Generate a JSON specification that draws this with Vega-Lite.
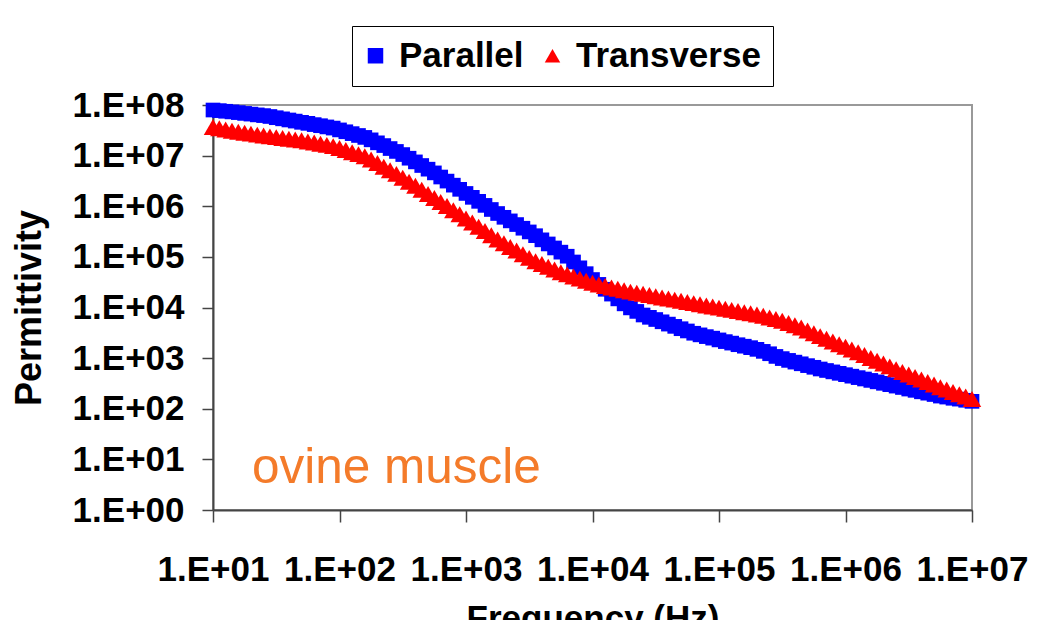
{
"$schema": "https://vega.github.io/schema/vega-lite/v6.json",
"width": 759, "height": 405,
"autosize": {"type": "none"},
"padding": {"left": 213, "top": 105, "right": 84, "bottom": 110},
"background": "white",
"config": {"view": {"stroke": "#999999", "strokeWidth": 2}, "font": "Liberation Sans"},
"datasets": {
"pts": [
{"f":10,"v":7.96e7,"s":"Parallel"},{"f":11.22,"v":7.74e7,"s":"Parallel"},{"f":12.59,"v":7.52e7,"s":"Parallel"},{"f":14.13,"v":7.31e7,"s":"Parallel"},{"f":15.85,"v":7.08e7,"s":"Parallel"},{"f":17.78,"v":6.82e7,"s":"Parallel"},{"f":19.95,"v":6.61e7,"s":"Parallel"},{"f":22.39,"v":6.38e7,"s":"Parallel"},{"f":25.12,"v":6.18e7,"s":"Parallel"},{"f":28.18,"v":5.93e7,"s":"Parallel"},
{"f":31.62,"v":5.61e7,"s":"Parallel"},{"f":35.48,"v":5.33e7,"s":"Parallel"},{"f":39.81,"v":5.06e7,"s":"Parallel"},{"f":44.67,"v":4.81e7,"s":"Parallel"},{"f":50.12,"v":4.55e7,"s":"Parallel"},{"f":56.23,"v":4.34e7,"s":"Parallel"},{"f":63.1,"v":4.10e7,"s":"Parallel"},{"f":70.79,"v":3.90e7,"s":"Parallel"},{"f":79.43,"v":3.69e7,"s":"Parallel"},{"f":89.13,"v":3.50e7,"s":"Parallel"},
{"f":100,"v":3.22e7,"s":"Parallel"},{"f":112.2,"v":2.96e7,"s":"Parallel"},{"f":125.9,"v":2.72e7,"s":"Parallel"},{"f":141.3,"v":2.50e7,"s":"Parallel"},{"f":158.5,"v":2.29e7,"s":"Parallel"},{"f":177.8,"v":2.05e7,"s":"Parallel"},{"f":199.5,"v":1.79e7,"s":"Parallel"},{"f":223.9,"v":1.58e7,"s":"Parallel"},{"f":251.2,"v":1.38e7,"s":"Parallel"},{"f":281.8,"v":1.21e7,"s":"Parallel"},
{"f":316.2,"v":1.05e7,"s":"Parallel"},{"f":354.8,"v":8.89e6,"s":"Parallel"},{"f":398.1,"v":7.52e6,"s":"Parallel"},{"f":446.7,"v":6.38e6,"s":"Parallel"},{"f":501.2,"v":5.40e6,"s":"Parallel"},{"f":562.3,"v":4.56e6,"s":"Parallel"},{"f":631,"v":3.78e6,"s":"Parallel"},{"f":707.9,"v":3.14e6,"s":"Parallel"},{"f":794.3,"v":2.61e6,"s":"Parallel"},{"f":891.3,"v":2.16e6,"s":"Parallel"},
{"f":1000,"v":1.79e6,"s":"Parallel"},{"f":1122,"v":1.50e6,"s":"Parallel"},{"f":1259,"v":1.25e6,"s":"Parallel"},{"f":1413,"v":1.04e6,"s":"Parallel"},{"f":1585,"v":8.63e5,"s":"Parallel"},{"f":1778,"v":7.19e5,"s":"Parallel"},{"f":1995,"v":6.05e5,"s":"Parallel"},{"f":2239,"v":5.14e5,"s":"Parallel"},{"f":2512,"v":4.35e5,"s":"Parallel"},{"f":2818,"v":3.68e5,"s":"Parallel"},
{"f":3162,"v":3.11e5,"s":"Parallel"},{"f":3548,"v":2.62e5,"s":"Parallel"},{"f":3981,"v":2.17e5,"s":"Parallel"},{"f":4467,"v":1.80e5,"s":"Parallel"},{"f":5012,"v":1.50e5,"s":"Parallel"},{"f":5623,"v":1.24e5,"s":"Parallel"},{"f":6310,"v":1.03e5,"s":"Parallel"},{"f":7079,"v":7.93e4,"s":"Parallel"},{"f":7943,"v":6.08e4,"s":"Parallel"},{"f":8913,"v":4.66e4,"s":"Parallel"},
{"f":1e4,"v":3.57e4,"s":"Parallel"},{"f":1.122e4,"v":2.86e4,"s":"Parallel"},{"f":1.259e4,"v":2.29e4,"s":"Parallel"},{"f":1.413e4,"v":1.84e4,"s":"Parallel"},{"f":1.585e4,"v":1.48e4,"s":"Parallel"},{"f":1.778e4,"v":1.18e4,"s":"Parallel"},{"f":1.995e4,"v":9820,"s":"Parallel"},{"f":2.239e4,"v":8370,"s":"Parallel"},{"f":2.512e4,"v":7110,"s":"Parallel"},{"f":2.818e4,"v":6400,"s":"Parallel"},
{"f":3.162e4,"v":5790,"s":"Parallel"},{"f":3.548e4,"v":5220,"s":"Parallel"},{"f":3.981e4,"v":4700,"s":"Parallel"},{"f":4.467e4,"v":4240,"s":"Parallel"},{"f":5.012e4,"v":3810,"s":"Parallel"},{"f":5.623e4,"v":3440,"s":"Parallel"},{"f":6.31e4,"v":3100,"s":"Parallel"},{"f":7.079e4,"v":2880,"s":"Parallel"},{"f":7.943e4,"v":2660,"s":"Parallel"},{"f":8.913e4,"v":2480,"s":"Parallel"},
{"f":1e5,"v":2290,"s":"Parallel"},{"f":1.122e5,"v":2120,"s":"Parallel"},{"f":1.259e5,"v":1980,"s":"Parallel"},{"f":1.413e5,"v":1840,"s":"Parallel"},{"f":1.585e5,"v":1720,"s":"Parallel"},{"f":1.778e5,"v":1610,"s":"Parallel"},{"f":1.995e5,"v":1490,"s":"Parallel"},{"f":2.239e5,"v":1360,"s":"Parallel"},{"f":2.512e5,"v":1220,"s":"Parallel"},{"f":2.818e5,"v":1080,"s":"Parallel"},
{"f":3.162e5,"v":979,"s":"Parallel"},{"f":3.548e5,"v":902,"s":"Parallel"},{"f":3.981e5,"v":834,"s":"Parallel"},{"f":4.467e5,"v":773,"s":"Parallel"},{"f":5.012e5,"v":711,"s":"Parallel"},{"f":5.623e5,"v":659,"s":"Parallel"},{"f":6.31e5,"v":610,"s":"Parallel"},{"f":7.079e5,"v":570,"s":"Parallel"},{"f":7.943e5,"v":535,"s":"Parallel"},{"f":8.913e5,"v":501,"s":"Parallel"},
{"f":1e6,"v":471,"s":"Parallel"},{"f":1.122e6,"v":440,"s":"Parallel"},{"f":1.259e6,"v":412,"s":"Parallel"},{"f":1.413e6,"v":387,"s":"Parallel"},{"f":1.585e6,"v":363,"s":"Parallel"},{"f":1.778e6,"v":340,"s":"Parallel"},{"f":1.995e6,"v":318,"s":"Parallel"},{"f":2.239e6,"v":299,"s":"Parallel"},{"f":2.512e6,"v":280,"s":"Parallel"},{"f":2.818e6,"v":263,"s":"Parallel"},
{"f":3.162e6,"v":245,"s":"Parallel"},{"f":3.548e6,"v":231,"s":"Parallel"},{"f":3.981e6,"v":216,"s":"Parallel"},{"f":4.467e6,"v":203,"s":"Parallel"},{"f":5.012e6,"v":191,"s":"Parallel"},{"f":5.623e6,"v":178,"s":"Parallel"},{"f":6.31e6,"v":170,"s":"Parallel"},{"f":7.079e6,"v":161,"s":"Parallel"},{"f":7.943e6,"v":155,"s":"Parallel"},{"f":8.913e6,"v":147,"s":"Parallel"},
{"f":1e7,"v":140,"s":"Parallel"},
{"f":10,"v":3.67e7,"s":"Transverse"},{"f":11.22,"v":3.47e7,"s":"Transverse"},{"f":12.59,"v":3.28e7,"s":"Transverse"},{"f":14.13,"v":3.09e7,"s":"Transverse"},{"f":15.85,"v":2.96e7,"s":"Transverse"},{"f":17.78,"v":2.84e7,"s":"Transverse"},{"f":19.95,"v":2.72e7,"s":"Transverse"},{"f":22.39,"v":2.60e7,"s":"Transverse"},{"f":25.12,"v":2.50e7,"s":"Transverse"},{"f":28.18,"v":2.40e7,"s":"Transverse"},
{"f":31.62,"v":2.32e7,"s":"Transverse"},{"f":35.48,"v":2.24e7,"s":"Transverse"},{"f":39.81,"v":2.16e7,"s":"Transverse"},{"f":44.67,"v":2.09e7,"s":"Transverse"},{"f":50.12,"v":2.01e7,"s":"Transverse"},{"f":56.23,"v":1.91e7,"s":"Transverse"},{"f":63.1,"v":1.81e7,"s":"Transverse"},{"f":70.79,"v":1.72e7,"s":"Transverse"},{"f":79.43,"v":1.63e7,"s":"Transverse"},{"f":89.13,"v":1.54e7,"s":"Transverse"},
{"f":100,"v":1.41e7,"s":"Transverse"},{"f":112.2,"v":1.29e7,"s":"Transverse"},{"f":125.9,"v":1.17e7,"s":"Transverse"},{"f":141.3,"v":1.07e7,"s":"Transverse"},{"f":158.5,"v":9.70e6,"s":"Transverse"},{"f":177.8,"v":8.41e6,"s":"Transverse"},{"f":199.5,"v":7.14e6,"s":"Transverse"},{"f":223.9,"v":6.04e6,"s":"Transverse"},{"f":251.2,"v":5.13e6,"s":"Transverse"},{"f":281.8,"v":4.36e6,"s":"Transverse"},
{"f":316.2,"v":3.65e6,"s":"Transverse"},{"f":354.8,"v":3.04e6,"s":"Transverse"},{"f":398.1,"v":2.54e6,"s":"Transverse"},{"f":446.7,"v":2.11e6,"s":"Transverse"},{"f":501.2,"v":1.75e6,"s":"Transverse"},{"f":562.3,"v":1.46e6,"s":"Transverse"},{"f":631,"v":1.21e6,"s":"Transverse"},{"f":707.9,"v":1.01e6,"s":"Transverse"},{"f":794.3,"v":8.36e5,"s":"Transverse"},{"f":891.3,"v":6.93e5,"s":"Transverse"},
{"f":1000,"v":5.75e5,"s":"Transverse"},{"f":1122,"v":4.78e5,"s":"Transverse"},{"f":1259,"v":3.93e5,"s":"Transverse"},{"f":1413,"v":3.24e5,"s":"Transverse"},{"f":1585,"v":2.68e5,"s":"Transverse"},{"f":1778,"v":2.21e5,"s":"Transverse"},{"f":1995,"v":1.85e5,"s":"Transverse"},{"f":2239,"v":1.57e5,"s":"Transverse"},{"f":2512,"v":1.33e5,"s":"Transverse"},{"f":2818,"v":1.13e5,"s":"Transverse"},
{"f":3162,"v":9.55e4,"s":"Transverse"},{"f":3548,"v":8.22e4,"s":"Transverse"},{"f":3981,"v":7.23e4,"s":"Transverse"},{"f":4467,"v":6.37e4,"s":"Transverse"},{"f":5012,"v":5.61e4,"s":"Transverse"},{"f":5623,"v":4.95e4,"s":"Transverse"},{"f":6310,"v":4.51e4,"s":"Transverse"},{"f":7079,"v":4.09e4,"s":"Transverse"},{"f":7943,"v":3.72e4,"s":"Transverse"},{"f":8913,"v":3.38e4,"s":"Transverse"},
{"f":1e4,"v":3.08e4,"s":"Transverse"},{"f":1.122e4,"v":2.86e4,"s":"Transverse"},{"f":1.259e4,"v":2.67e4,"s":"Transverse"},{"f":1.413e4,"v":2.49e4,"s":"Transverse"},{"f":1.585e4,"v":2.34e4,"s":"Transverse"},{"f":1.778e4,"v":2.19e4,"s":"Transverse"},{"f":1.995e4,"v":2.06e4,"s":"Transverse"},{"f":2.239e4,"v":1.95e4,"s":"Transverse"},{"f":2.512e4,"v":1.86e4,"s":"Transverse"},{"f":2.818e4,"v":1.76e4,"s":"Transverse"},
{"f":3.162e4,"v":1.67e4,"s":"Transverse"},{"f":3.548e4,"v":1.58e4,"s":"Transverse"},{"f":3.981e4,"v":1.50e4,"s":"Transverse"},{"f":4.467e4,"v":1.43e4,"s":"Transverse"},{"f":5.012e4,"v":1.36e4,"s":"Transverse"},{"f":5.623e4,"v":1.29e4,"s":"Transverse"},{"f":6.31e4,"v":1.22e4,"s":"Transverse"},{"f":7.079e4,"v":1.16e4,"s":"Transverse"},{"f":7.943e4,"v":1.10e4,"s":"Transverse"},{"f":8.913e4,"v":1.05e4,"s":"Transverse"},
{"f":1e5,"v":9950,"s":"Transverse"},{"f":1.122e5,"v":9460,"s":"Transverse"},{"f":1.259e5,"v":8970,"s":"Transverse"},{"f":1.413e5,"v":8530,"s":"Transverse"},{"f":1.585e5,"v":8070,"s":"Transverse"},{"f":1.778e5,"v":7670,"s":"Transverse"},{"f":1.995e5,"v":7280,"s":"Transverse"},{"f":2.239e5,"v":6850,"s":"Transverse"},{"f":2.512e5,"v":6370,"s":"Transverse"},{"f":2.818e5,"v":5930,"s":"Transverse"},
{"f":3.162e5,"v":5460,"s":"Transverse"},{"f":3.548e5,"v":4940,"s":"Transverse"},{"f":3.981e5,"v":4470,"s":"Transverse"},{"f":4.467e5,"v":4030,"s":"Transverse"},{"f":5.012e5,"v":3530,"s":"Transverse"},{"f":5.623e5,"v":3090,"s":"Transverse"},{"f":6.31e5,"v":2720,"s":"Transverse"},{"f":7.079e5,"v":2410,"s":"Transverse"},{"f":7.943e5,"v":2130,"s":"Transverse"},{"f":8.913e5,"v":1880,"s":"Transverse"},
{"f":1e6,"v":1670,"s":"Transverse"},{"f":1.122e6,"v":1480,"s":"Transverse"},{"f":1.259e6,"v":1310,"s":"Transverse"},{"f":1.413e6,"v":1150,"s":"Transverse"},{"f":1.585e6,"v":1010,"s":"Transverse"},{"f":1.778e6,"v":889,"s":"Transverse"},{"f":1.995e6,"v":780,"s":"Transverse"},{"f":2.239e6,"v":687,"s":"Transverse"},{"f":2.512e6,"v":604,"s":"Transverse"},{"f":2.818e6,"v":532,"s":"Transverse"},
{"f":3.162e6,"v":475,"s":"Transverse"},{"f":3.548e6,"v":424,"s":"Transverse"},{"f":3.981e6,"v":377,"s":"Transverse"},{"f":4.467e6,"v":336,"s":"Transverse"},{"f":5.012e6,"v":300,"s":"Transverse"},{"f":5.623e6,"v":267,"s":"Transverse"},{"f":6.31e6,"v":240,"s":"Transverse"},{"f":7.079e6,"v":215,"s":"Transverse"},{"f":7.943e6,"v":193,"s":"Transverse"},{"f":8.913e6,"v":174,"s":"Transverse"},
{"f":1e7,"v":156,"s":"Transverse"}
],
"label": [{"f": 20.3, "v": 3.4, "t": "ovine muscle"}]
},
"layer": [
{
"data": {"name": "pts"},
"transform": [{"filter": "datum.s === 'Parallel'"}],
"mark": {"type": "point", "filled": true, "opacity": 1, "size": 215, "strokeWidth": 0},
"encoding": {
"x": {"field": "f", "type": "quantitative",
"scale": {"type": "log", "domain": [10, 1e7], "nice": false},
"axis": {"values": [10, 100, 1000, 10000, 100000, 1000000, 10000000],
"labelExpr": "'1.E+' + pad(format(log(datum.value)/LN10, '.0f'), 2, '0', 'left')",
"title": "Frequency (Hz)", "grid": false,
"labelFont": "Liberation Sans", "labelFontSize": 35, "labelFontWeight": "bold", "labelColor": "black",
"titleFont": "Liberation Sans", "titleFontSize": 35, "titleFontWeight": "bold", "titleColor": "black",
"tickSize": 12, "tickColor": "#444444", "tickWidth": 1.5,
"domainColor": "#444444", "domainWidth": 2,
"labelPadding": 30, "titlePadding": 14, "labelFlush": false, "labelOverlap": false}},
"y": {"field": "v", "type": "quantitative",
"scale": {"type": "log", "domain": [1, 1e8], "nice": false},
"axis": {"values": [1, 10, 100, 1000, 10000, 100000, 1000000, 10000000, 100000000],
"labelExpr": "'1.E+' + pad(format(log(datum.value)/LN10, '.0f'), 2, '0', 'left')",
"title": "Permittivity", "grid": false,
"labelFont": "Liberation Sans", "labelFontSize": 35, "labelFontWeight": "bold", "labelColor": "black",
"titleFont": "Liberation Sans", "titleFontSize": 36, "titleFontWeight": "bold", "titleColor": "black",
"tickSize": 11, "tickColor": "#444444", "tickWidth": 1.5,
"domainColor": "#444444", "domainWidth": 2,
"labelPadding": 18, "titlePadding": 24, "labelOverlap": false}},
"color": {"field": "s", "type": "nominal",
"scale": {"domain": ["Parallel", "Transverse"], "range": ["#0000ff", "#ff0000"]},
"legend": {"title": null, "orient": "none", "legendX": 139, "legendY": -79, "direction": "horizontal",
"labelFont": "Liberation Sans", "labelFontSize": 35, "labelFontWeight": "bold", "labelColor": "black", "labelLimit": 400,
"symbolSize": 240, "symbolStrokeWidth": 0, "strokeColor": "black", "fillColor": "white",
"padding": 12, "labelOffset": 6, "symbolOffset": -6, "columnPadding": 17}},
"shape": {"field": "s", "type": "nominal",
"scale": {"domain": ["Parallel", "Transverse"], "range": ["square", "triangle-up"]},
"legend": {"title": null, "orient": "none", "legendX": 139, "legendY": -79, "direction": "horizontal",
"labelFont": "Liberation Sans", "labelFontSize": 35, "labelFontWeight": "bold", "labelColor": "black", "labelLimit": 400,
"symbolSize": 240, "symbolStrokeWidth": 0, "strokeColor": "black", "fillColor": "white",
"padding": 12, "labelOffset": 6, "symbolOffset": -6, "columnPadding": 17}}
}
},
{
"data": {"name": "pts"},
"transform": [{"filter": "datum.s === 'Transverse'"}],
"mark": {"type": "point", "filled": true, "opacity": 1, "size": 340, "strokeWidth": 0},
"encoding": {
"x": {"field": "f", "type": "quantitative"},
"y": {"field": "v", "type": "quantitative"},
"color": {"field": "s", "type": "nominal"},
"shape": {"field": "s", "type": "nominal"}
}
},
{
"data": {"name": "label"},
"mark": {"type": "text", "align": "left", "baseline": "alphabetic", "font": "Liberation Sans", "fontSize": 49.5, "color": "#F47B2A"},
"encoding": {
"x": {"field": "f", "type": "quantitative"},
"y": {"field": "v", "type": "quantitative"},
"text": {"field": "t"}
}
}
]
}
